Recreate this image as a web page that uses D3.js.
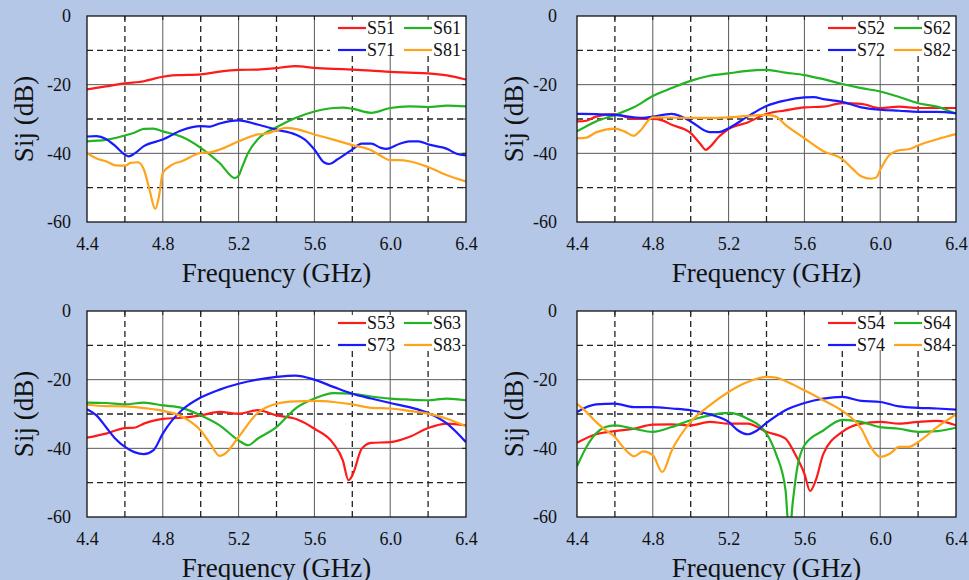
<!DOCTYPE html>
<head>
  <meta charset="utf-8">
  <title>Sij vs Frequency</title>
  <style>
    body { margin: 0; background: #b4c7e7; }
    text { font-family: "Liberation Serif", "Times New Roman", Times, "DejaVu Serif", serif; fill: #111; }
  </style>
</head>
<body>
<script src="https://d3js.org/d3.v7.min.js"></script>
<script>

    // tick labels
    var xTicks = [4.4, 4.8, 5.2, 5.6, 6.0, 6.4];
    var yTicks = [0, -20, -40, -60];

    // series names per panel and colours (red, green, blue, orange)
    var panelSeries = [
      ["S51", "S61", "S71", "S81"],
      ["S52", "S62", "S72", "S82"],
      ["S53", "S63", "S73", "S83"],
      ["S54", "S64", "S74", "S84"]
    ];
    var seriesColors = ["#ff1a1a", "#22b422", "#1a1aff", "#ffa31a"];

    // [frequency GHz, dB]
    var S51 = [[4.4,-21.4],[4.5,-20.5],[4.6,-19.6],[4.7,-19.0],[4.75,-18.3],[4.8,-17.7],[4.85,-17.3],[4.9,-17.2],[5.0,-17.0],[5.1,-16.2],[5.2,-15.7],[5.3,-15.6],[5.4,-15.2],[5.45,-14.8],[5.5,-14.6],[5.6,-15.1],[5.7,-15.4],[5.8,-15.6],[5.9,-15.9],[6.0,-16.3],[6.1,-16.5],[6.2,-16.7],[6.3,-17.3],[6.4,-18.5]];
    var S61 = [[4.4,-36.5],[4.5,-36.1],[4.6,-34.8],[4.65,-34.0],[4.7,-32.9],[4.75,-32.8],[4.8,-33.6],[4.9,-35.2],[5.0,-38.4],[5.1,-42.8],[5.18,-47.2],[5.2,-46.5],[5.22,-43.8],[5.25,-39.9],[5.3,-36.0],[5.4,-32.4],[5.5,-29.7],[5.6,-27.8],[5.7,-26.8],[5.75,-26.7],[5.8,-27.0],[5.9,-28.2],[6.0,-26.8],[6.1,-26.3],[6.2,-26.5],[6.3,-26.1],[6.4,-26.3]];
    var S71 = [[4.4,-35.1],[4.45,-35.0],[4.5,-35.8],[4.55,-37.9],[4.6,-40.4],[4.62,-40.9],[4.65,-40.1],[4.7,-37.9],[4.8,-36.0],[4.9,-33.3],[5.0,-32.1],[5.05,-32.2],[5.1,-31.3],[5.2,-30.4],[5.3,-31.6],[5.4,-33.1],[5.5,-34.5],[5.55,-36.0],[5.6,-38.9],[5.65,-42.6],[5.68,-43.1],[5.72,-41.8],[5.8,-38.9],[5.85,-37.2],[5.9,-37.2],[5.95,-38.4],[5.98,-38.7],[6.05,-37.2],[6.1,-36.5],[6.15,-36.5],[6.2,-37.4],[6.3,-38.7],[6.35,-40.1],[6.4,-40.6]];
    var S81 = [[4.4,-39.9],[4.45,-41.5],[4.5,-42.3],[4.55,-43.5],[4.6,-43.6],[4.63,-42.8],[4.67,-42.6],[4.7,-44.7],[4.73,-50.6],[4.76,-56.2],[4.78,-52.5],[4.8,-45.7],[4.85,-43.3],[4.9,-42.3],[5.0,-39.9],[5.05,-39.7],[5.1,-38.9],[5.2,-36.5],[5.3,-34.5],[5.35,-34.2],[5.4,-33.3],[5.45,-32.6],[5.5,-32.9],[5.6,-34.5],[5.7,-36.0],[5.8,-37.6],[5.9,-39.1],[5.95,-40.7],[6.0,-42.0],[6.05,-42.0],[6.1,-42.3],[6.2,-44.0],[6.3,-46.4],[6.4,-48.2]];

    var S52 = [[4.4,-30.7],[4.45,-30.5],[4.5,-29.3],[4.6,-28.6],[4.7,-30.0],[4.8,-30.0],[4.85,-30.4],[4.9,-31.7],[5.0,-34.1],[5.05,-37.2],[5.08,-39.0],[5.1,-38.2],[5.15,-35.1],[5.2,-32.9],[5.3,-31.0],[5.4,-28.5],[5.5,-27.5],[5.6,-26.6],[5.7,-26.4],[5.8,-25.4],[5.9,-25.6],[6.0,-26.8],[6.1,-26.4],[6.2,-26.8],[6.3,-26.8],[6.4,-26.8]];
    var S62 = [[4.4,-33.6],[4.5,-30.7],[4.6,-28.8],[4.7,-26.6],[4.8,-23.3],[4.9,-21.0],[5.0,-18.9],[5.1,-17.4],[5.2,-16.7],[5.3,-16.0],[5.4,-15.7],[5.5,-16.5],[5.6,-17.2],[5.7,-18.4],[5.8,-19.8],[5.9,-21.0],[6.0,-22.0],[6.1,-23.6],[6.2,-25.4],[6.3,-26.4],[6.4,-28.5]];
    var S72 = [[4.4,-28.5],[4.5,-28.6],[4.6,-28.8],[4.7,-29.5],[4.75,-29.7],[4.8,-29.3],[4.9,-28.5],[4.95,-29.3],[5.0,-30.7],[5.1,-33.8],[5.15,-33.8],[5.2,-32.7],[5.3,-29.3],[5.4,-26.2],[5.5,-24.6],[5.6,-23.7],[5.65,-23.6],[5.7,-24.2],[5.8,-25.0],[5.9,-26.6],[6.0,-27.3],[6.1,-27.6],[6.2,-27.9],[6.3,-27.9],[6.4,-28.3]];
    var S82 = [[4.4,-35.6],[4.45,-35.4],[4.5,-33.9],[4.6,-32.8],[4.65,-33.6],[4.7,-34.9],[4.73,-33.6],[4.8,-29.5],[4.9,-29.6],[5.0,-29.7],[5.1,-29.7],[5.2,-29.5],[5.3,-29.1],[5.4,-28.8],[5.45,-29.3],[5.5,-31.7],[5.6,-35.6],[5.7,-39.4],[5.8,-41.7],[5.85,-44.3],[5.9,-46.7],[5.95,-47.4],[5.98,-47.0],[6.0,-44.8],[6.05,-40.4],[6.1,-39.1],[6.15,-38.8],[6.2,-37.7],[6.3,-35.9],[6.4,-34.4]];

    var S53 = [[4.4,-36.9],[4.5,-35.7],[4.6,-34.1],[4.65,-34.0],[4.7,-32.8],[4.8,-31.4],[4.9,-31.1],[5.0,-30.4],[5.1,-29.4],[5.2,-29.9],[5.3,-28.9],[5.4,-30.4],[5.5,-31.4],[5.6,-34.3],[5.7,-38.6],[5.75,-43.5],[5.78,-49.3],[5.8,-47.9],[5.85,-40.1],[5.9,-38.4],[6.0,-38.2],[6.1,-36.7],[6.2,-34.1],[6.3,-32.8],[6.4,-33.3]];
    var S63 = [[4.4,-26.7],[4.5,-26.8],[4.6,-27.2],[4.7,-26.7],[4.8,-27.5],[4.9,-28.2],[5.0,-30.4],[5.1,-33.3],[5.2,-37.7],[5.25,-39.1],[5.3,-37.2],[5.4,-33.8],[5.5,-28.4],[5.6,-25.5],[5.7,-23.9],[5.8,-24.1],[5.9,-24.9],[6.0,-25.5],[6.1,-25.8],[6.2,-26.0],[6.3,-25.5],[6.4,-26.0]];
    var S73 = [[4.4,-28.6],[4.45,-30.4],[4.5,-33.8],[4.55,-37.2],[4.6,-39.6],[4.65,-41.1],[4.7,-41.7],[4.75,-40.6],[4.8,-35.7],[4.85,-31.8],[4.9,-28.9],[5.0,-25.2],[5.1,-22.9],[5.2,-21.2],[5.3,-20.0],[5.4,-19.2],[5.5,-18.8],[5.6,-20.0],[5.7,-22.1],[5.8,-24.1],[5.9,-25.5],[6.0,-26.8],[6.1,-28.0],[6.2,-29.7],[6.3,-32.8],[6.4,-38.2]];
    var S83 = [[4.4,-27.3],[4.5,-27.7],[4.6,-27.8],[4.7,-28.3],[4.8,-29.1],[4.9,-30.7],[5.0,-34.8],[5.05,-38.6],[5.1,-42.2],[5.13,-41.5],[5.2,-36.7],[5.3,-29.7],[5.4,-27.0],[5.5,-26.3],[5.6,-26.2],[5.7,-26.5],[5.8,-27.2],[5.9,-28.2],[6.0,-28.4],[6.1,-29.1],[6.2,-29.9],[6.3,-31.4],[6.4,-33.6]];

    var S54 = [[4.4,-38.4],[4.5,-35.9],[4.6,-35.0],[4.7,-34.3],[4.8,-33.1],[4.9,-33.0],[5.0,-33.3],[5.1,-32.3],[5.2,-32.8],[5.3,-32.8],[5.4,-35.2],[5.5,-37.2],[5.55,-41.6],[5.6,-47.4],[5.63,-52.4],[5.66,-49.3],[5.7,-41.6],[5.8,-35.2],[5.9,-32.8],[6.0,-32.3],[6.1,-32.8],[6.2,-32.3],[6.3,-32.0],[6.4,-33.3]];
    var S64 = [[4.4,-45.2],[4.45,-39.6],[4.5,-35.7],[4.55,-33.8],[4.6,-33.3],[4.7,-34.3],[4.8,-35.2],[4.9,-33.8],[5.0,-31.8],[5.1,-30.4],[5.2,-29.7],[5.3,-31.4],[5.4,-35.7],[5.45,-41.6],[5.5,-52.0],[5.52,-65.0],[5.54,-55.0],[5.56,-46.4],[5.6,-39.1],[5.7,-34.8],[5.8,-31.7],[5.9,-32.3],[6.0,-33.8],[6.1,-34.3],[6.2,-35.2],[6.3,-35.0],[6.4,-34.0]];
    var S74 = [[4.4,-29.4],[4.5,-27.2],[4.6,-27.0],[4.7,-28.0],[4.8,-28.0],[4.9,-28.4],[5.0,-28.9],[5.1,-30.1],[5.2,-32.3],[5.25,-34.8],[5.3,-35.9],[5.35,-34.8],[5.4,-32.6],[5.5,-28.9],[5.6,-26.8],[5.7,-25.5],[5.8,-25.0],[5.9,-26.2],[6.0,-26.5],[6.1,-27.8],[6.2,-28.2],[6.3,-28.4],[6.4,-28.7]];
    var S84 = [[4.4,-27.0],[4.45,-29.4],[4.5,-32.3],[4.55,-34.6],[4.6,-36.7],[4.65,-40.1],[4.7,-42.3],[4.75,-40.9],[4.8,-42.0],[4.85,-46.9],[4.9,-40.6],[5.0,-32.3],[5.1,-27.5],[5.2,-23.6],[5.3,-20.7],[5.4,-19.2],[5.45,-19.4],[5.5,-20.4],[5.6,-23.1],[5.7,-26.0],[5.8,-29.1],[5.9,-34.3],[5.95,-39.6],[6.0,-42.5],[6.05,-41.6],[6.1,-39.6],[6.15,-39.6],[6.2,-38.2],[6.3,-33.8],[6.4,-30.1]];

    var seriesData = {
      S51: S51, S61: S61, S71: S71, S81: S81,
      S52: S52, S62: S62, S72: S72, S82: S82,
      S53: S53, S63: S63, S73: S73, S83: S83,
      S54: S54, S64: S64, S74: S74, S84: S84
    };

    var plotLeft = [87, 577],
        plotTop = [16, 311],
        yLabelPad = [16, 20],
        width = 379,
        height = 206;

    var svg = d3.select("body").append("svg")
        .attr("width", 969)
        .attr("height", 580);

    var x = d3.scaleLinear().domain([4.4, 6.4]).range([0, width]);
    var y = d3.scaleLinear().domain([-60, 0]).range([height, 0]);

    var line = d3.line()
        .x(function(d) { return x(d[0]); })
        .y(function(d) { return y(d[1]); })
        .curve(d3.curveMonotoneX);

    var gridX = d3.range(1, 10).map(function(i) { return 4.4 + 0.2 * i; });
    var gridY = [-10, -20, -30, -40, -50];

    panelSeries.forEach(function(names, p) {
      var col = p % 2;
      var g = svg.append("g")
          .attr("transform", "translate(" + plotLeft[col] + "," + plotTop[Math.floor(p / 2)] + ")");

      g.append("rect")
          .attr("width", width)
          .attr("height", height)
          .attr("fill", "#fff");

      g.append("clipPath").attr("id", "clip" + p)
        .append("rect").attr("width", width).attr("height", height);

      // grid: solid at labelled values, dashed in between
      gridX.forEach(function(v, i) {
        g.append("line")
            .attr("x1", x(v)).attr("x2", x(v))
            .attr("y1", 0).attr("y2", height)
            .attr("stroke", i % 2 ? "#5a5a5a" : "#222")
            .attr("stroke-width", i % 2 ? 1 : 1.3)
            .attr("stroke-dasharray", i % 2 ? null : "6,4");
      });
      gridY.forEach(function(v) {
        var solid = v % 20 == 0;
        g.append("line")
            .attr("x1", 0).attr("x2", width)
            .attr("y1", y(v)).attr("y2", y(v))
            .attr("stroke", solid ? "#5a5a5a" : "#222")
            .attr("stroke-width", solid ? 1 : 1.3)
            .attr("stroke-dasharray", solid ? null : "6,4");
      });

      // legend box hides grid
      var legX = width - 136;
      g.append("rect")
          .attr("x", legX)
          .attr("y", 0)
          .attr("width", 136)
          .attr("height", 39)
          .attr("fill", "#fff");

      // inward ticks
      gridX.forEach(function(v) {
        g.append("line").attr("x1", x(v)).attr("x2", x(v)).attr("y1", 0).attr("y2", 4).attr("stroke", "#222");
      });
      gridY.forEach(function(v) {
        g.append("line").attr("x1", width - 4).attr("x2", width).attr("y1", y(v)).attr("y2", y(v)).attr("stroke", "#222");
      });

      // curves
      names.forEach(function(name, i) {
        g.append("path")
            .datum(seriesData[name])
            .attr("clip-path", "url(#clip" + p + ")")
            .attr("fill", "none")
            .attr("stroke", seriesColors[i])
            .attr("stroke-width", 2.2)
            .attr("d", line);
      });

      // legend
      names.forEach(function(name, i) {
        var lx = width - 128 + (i % 2) * 66,
            ly = 12 + Math.floor(i / 2) * 22;
        g.append("line")
            .attr("x1", lx).attr("x2", lx + 28)
            .attr("y1", ly).attr("y2", ly)
            .attr("stroke", seriesColors[i])
            .attr("stroke-width", 2.2);
        g.append("text")
            .attr("x", lx + 29)
            .attr("y", ly + 6)
            .style("font-size", "18px")
            .text(name);
      });

      // border
      g.append("rect")
          .attr("width", width)
          .attr("height", height)
          .attr("fill", "none")
          .attr("stroke", "#111")
          .attr("stroke-width", 1.3);

      // axes
      var ax = g.append("g")
          .attr("transform", "translate(0," + height + ")")
          .call(d3.axisBottom(x).tickValues(xTicks).tickFormat(d3.format(".1f")).tickSize(0).tickPadding(15));
      var ay = g.append("g")
          .call(d3.axisLeft(y).tickValues(yTicks).tickFormat(function(d) { return String(d); }).tickSize(0).tickPadding(yLabelPad[col]));
      [ax, ay].forEach(function(a) {
        a.attr("font-family", null);
        a.select(".domain").remove();
        a.selectAll("text")
            .style("font-size", "18px")
            .attr("fill", "#111");
      });

      // axis titles
      g.append("text")
          .attr("x", width / 2)
          .attr("y", height + 60)
          .style("text-anchor", "middle")
          .style("font-size", "27px")
          .text("Frequency (GHz)");

      g.append("text")
          .attr("transform", "rotate(-90)")
          .attr("x", -height / 2)
          .attr("y", -54)
          .style("text-anchor", "middle")
          .style("font-size", "27px")
          .text("Sij (dB)");
    });

</script>
</body>
